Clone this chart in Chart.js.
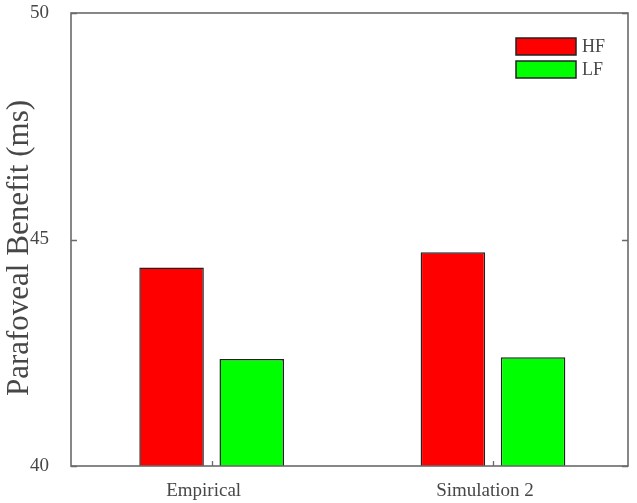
<!DOCTYPE html>
<html>
<head>
<meta charset="utf-8">
<script src="https://cdn.jsdelivr.net/npm/chart.js@4/dist/chart.umd.min.js"></script>
<style>
  html, body { margin: 0; padding: 0; background: #fff; }
  #wrap { width: 637px; height: 503px; }
</style>
</head>
<body>
<div id="wrap"><canvas id="c" width="637" height="503"></canvas></div>
<script>
// ---- data ----
const categories = ['Empirical', 'Simulation 2'];
const categoryPositions = [1, 2];
const seriesNames = ['HF', 'LF'];
const hfValues = [44.38, 44.72];
const lfValues = [42.36, 42.40];
const yTicks = [40, 45, 50];
const yLabel = 'Parafoveal Benefit (ms)';

const SERIF = '"Liberation Serif", "Times New Roman", Times, serif';
const TEXT = '#474747';
const AXIS = '#6a6a6a';

const toPoints = vals => vals.map((v, i) => ({ x: categoryPositions[i], y: v }));

const framePlugin = {
  id: 'frame',
  afterDatasetsDraw(chart) {
    const { ctx, chartArea: a, scales } = chart;
    ctx.save();
    ctx.strokeStyle = AXIS;
    ctx.lineWidth = 1.6;
    ctx.strokeRect(a.left, a.top, a.right - a.left, a.bottom - a.top);
    ctx.lineWidth = 1.3;
    ctx.beginPath();
    yTicks.forEach(t => {
      const y = Math.round(scales.y.getPixelForValue(t)) + 0.5;
      ctx.moveTo(a.left, y); ctx.lineTo(a.left + 6, y);
      ctx.moveTo(a.right, y); ctx.lineTo(a.right - 6, y);
    });
    categoryPositions.forEach(p => {
      const x = Math.round(scales.x.getPixelForValue(p)) + 0.5;
      ctx.moveTo(x, a.bottom); ctx.lineTo(x, a.bottom - 5);
    });
    ctx.stroke();

    // y-axis title
    ctx.fillStyle = TEXT;
    ctx.font = '31px ' + SERIF;
    ctx.textAlign = 'center';
    ctx.textBaseline = 'middle';
    ctx.translate(20, 248);
    ctx.rotate(-Math.PI / 2);
    ctx.fillText(yLabel, 0, 0);
    ctx.restore();

    // legend
    ctx.save();
    ctx.font = '18px ' + SERIF;
    ctx.textAlign = 'left';
    ctx.textBaseline = 'middle';
    chart.data.datasets.forEach((ds, i) => {
      const top = 38 + i * 23;
      ctx.fillStyle = ds.backgroundColor;
      ctx.fillRect(516, top, 60, 17);
      ctx.strokeStyle = '#222';
      ctx.lineWidth = 1.5;
      ctx.strokeRect(516, top, 60, 17);
      ctx.fillStyle = TEXT;
      ctx.fillText(ds.label, 582, top + 9);
    });
    ctx.restore();
  }
};

new Chart(document.getElementById('c'), {
  type: 'bar',
  data: {
    datasets: [
      { label: seriesNames[0], data: toPoints(hfValues), backgroundColor: '#ff0000', borderColor: '#222', borderWidth: 1.5 },
      { label: seriesNames[1], data: toPoints(lfValues), backgroundColor: '#00ff00', borderColor: '#222', borderWidth: 1.5 }
    ]
  },
  options: {
    responsive: false,
    animation: false,
    devicePixelRatio: 1,
    categoryPercentage: 0.57,
    barPercentage: 0.805,
    layout: { padding: { left: 0, right: 9, top: 13, bottom: 0 } },
    plugins: { legend: { display: false }, tooltip: { enabled: false } },
    scales: {
      x: {
        type: 'linear',
        min: 0.5,
        max: 2.48,
        bounds: 'data',
        offset: false,
        grid: { display: false, offset: false },
        border: { display: false },
        afterBuildTicks: s => { s.ticks = categoryPositions.map(v => ({ value: v })); },
        afterFit: s => { s.height = 37; s.paddingLeft = 0; s.paddingRight = 0; },
        ticks: {
          callback: v => categories[categoryPositions.indexOf(v)] ?? '',
          font: { family: SERIF, size: 19 },
          color: TEXT,
          padding: 6,
          labelOffset: -8,
          maxRotation: 0
        }
      },
      y: {
        min: 40,
        max: 50,
        bounds: 'data',
        grid: { display: false },
        border: { display: false },
        afterBuildTicks: s => { s.ticks = yTicks.map(v => ({ value: v })); },
        afterFit: s => { s.width = 71; s.paddingTop = 0; s.paddingBottom = 0; },
        ticks: {
          font: { family: SERIF, size: 19 },
          color: TEXT,
          padding: 14
        }
      }
    }
  },
  plugins: [framePlugin]
});
</script>
</body>
</html>
